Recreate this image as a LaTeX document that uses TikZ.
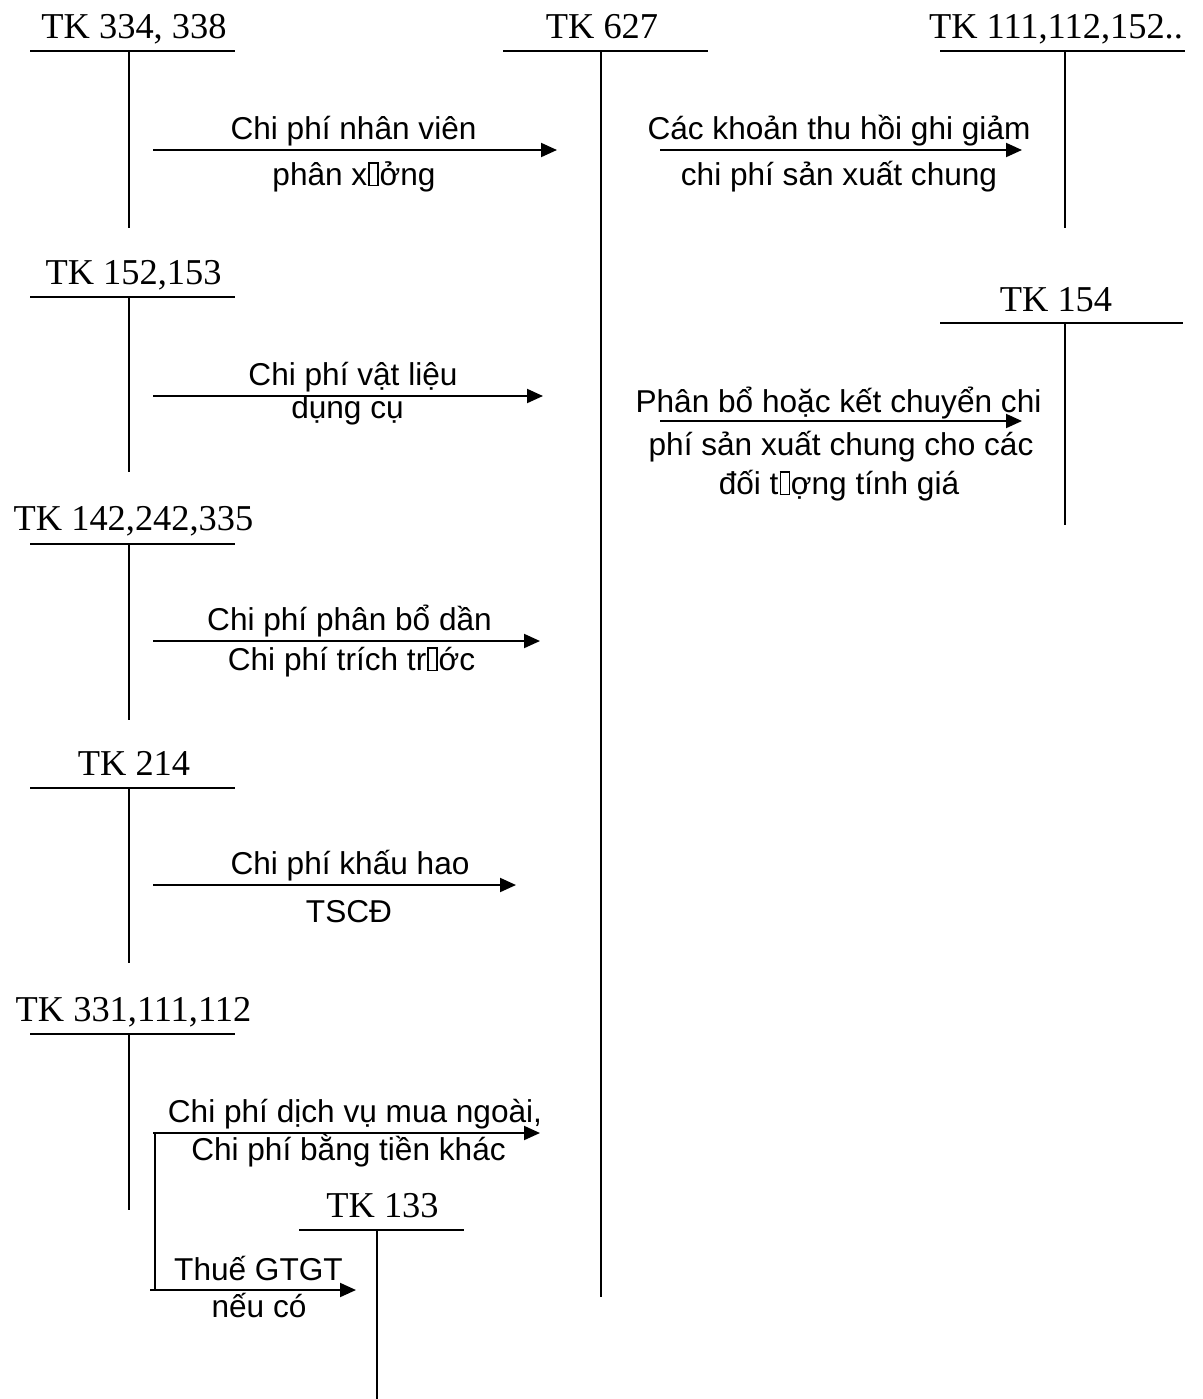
\documentclass[tikz,border=0pt]{standalone}
\usepackage{fontspec}
\setmainfont{Liberation Serif}
\newfontfamily\flowfont{Liberation Sans}
\usetikzlibrary{arrows.meta}
% empty box standing for a glyph the font could not show
\newcommand{\nglyph}{{\setlength{\fboxsep}{0pt}\setlength{\fboxrule}{0.045em}\kern0.03em\fbox{\rule{0pt}{0.68em}\rule{0.24em}{0pt}}\kern0.03em}}
\begin{document}
\begin{tikzpicture}[x=0.5pt,y=-0.5pt,
  acct/.style={font=\fontsize{18.2}{20}\selectfont, anchor=base, inner sep=0pt},
  lbl/.style={font=\flowfont\fontsize{15.8}{18}\selectfont, anchor=base, inner sep=0pt},
  tline/.style={line width=1pt},
  flow/.style={line width=1pt, -{Triangle[length=8pt,width=7pt]}}]
\useasboundingbox (0,0) rectangle (1203,1399);

% ---- T-accounts: title, horizontal bar, vertical stem ----
\node[acct] (t334) at (134,38) {TK 334, 338};
\coordinate (t334l) at (30,51);  \coordinate (t334r) at (235,51);
\coordinate (t334a) at (129,51); \coordinate (t334b) at (129,228);

\node[acct] (t627) at (602,38) {TK 627};
\coordinate (t627l) at (503,51);  \coordinate (t627r) at (708,51);
\coordinate (t627a) at (601,51);  \coordinate (t627b) at (601,1297);

\node[acct] (t111) at (1056,38) {TK 111,112,152..};
\coordinate (t111l) at (940,51);  \coordinate (t111r) at (1185,51);
\coordinate (t111a) at (1065,51); \coordinate (t111b) at (1065,228);

\node[acct] (t152) at (133.5,284) {TK 152,153};
\coordinate (t152l) at (30,297);  \coordinate (t152r) at (235,297);
\coordinate (t152a) at (129,297); \coordinate (t152b) at (129,472);

\node[acct] (t154) at (1056,311) {TK 154};
\coordinate (t154l) at (940,323);  \coordinate (t154r) at (1183,323);
\coordinate (t154a) at (1065,323); \coordinate (t154b) at (1065,525);

\node[acct] (t142) at (133.5,530) {TK 142,242,335};
\coordinate (t142l) at (30,544);  \coordinate (t142r) at (235,544);
\coordinate (t142a) at (129,544); \coordinate (t142b) at (129,720);

\node[acct] (t214) at (134,775) {TK 214};
\coordinate (t214l) at (30,788);  \coordinate (t214r) at (235,788);
\coordinate (t214a) at (129,788); \coordinate (t214b) at (129,963);

\node[acct] (t331) at (133.5,1021) {TK 331,111,112};
\coordinate (t331l) at (30,1034);  \coordinate (t331r) at (235,1034);
\coordinate (t331a) at (129,1034); \coordinate (t331b) at (129,1210);

\node[acct] (t133) at (382.5,1217) {TK 133};
\coordinate (t133l) at (299,1230); \coordinate (t133r) at (464,1230);
\coordinate (t133a) at (377,1230); \coordinate (t133b) at (377,1399);

\foreach \t in {t334,t627,t111,t152,t154,t142,t214,t331,t133}{
  \draw[tline] (\t l) -- (\t r);
  \draw[tline] (\t a) -- (\t b);
}

% ---- postings ----
\coordinate (f1s) at (153,150); \coordinate (f1e) at (557,150);
\draw[flow] (f1s) -- (f1e);
\node[lbl] (f1u) at (353.5,139) {Chi phí nhân viên};
\node[lbl] (f1d) at (354,185) {phân x\nglyph ởng};

\coordinate (f2s) at (660,150); \coordinate (f2e) at (1022,150);
\draw[flow] (f2s) -- (f2e);
\node[lbl] (f2u) at (839,139) {Các khoản thu hồi ghi giảm};
\node[lbl] (f2d) at (839,185) {chi phí sản xuất chung};

\coordinate (f3s) at (153,396); \coordinate (f3e) at (543,396);
\draw[flow] (f3s) -- (f3e);
\node[lbl] (f3u) at (353,385) {Chi phí vật liệu};
\node[lbl] (f3d) at (347.5,418) {dụng cụ};

\coordinate (f4s) at (660,421); \coordinate (f4e) at (1022,421);
\draw[flow] (f4s) -- (f4e);
\node[lbl] (f4a) at (838.5,412) {Phân bổ hoặc kết chuyển chi};
\node[lbl] (f4b) at (841,455) {phí sản xuất chung cho các};
\node[lbl] (f4c) at (839,494) {đối t\nglyph ợng tính giá};

\coordinate (f5s) at (153,641); \coordinate (f5e) at (540,641);
\draw[flow] (f5s) -- (f5e);
\node[lbl] (f5u) at (349.5,630) {Chi phí phân bổ dần};
\node[lbl] (f5d) at (351.5,670) {Chi phí trích tr\nglyph ớc};

\coordinate (f6s) at (153,885); \coordinate (f6e) at (516,885);
\draw[flow] (f6s) -- (f6e);
\node[lbl] (f6u) at (350,874) {Chi phí khấu hao};
\node[lbl] (f6d) at (349,922) {TSCĐ};

\coordinate (f7s) at (153,1133); \coordinate (f7e) at (540,1133);
\draw[flow] (f7s) -- (f7e);
\node[lbl] (f7u) at (355,1122) {Chi phí dịch vụ mua ngoài,};
\node[lbl] (f7d) at (348.5,1160) {Chi phí bằng tiền khác};

% VAT branch split off the purchase posting
\coordinate (vbt) at (155,1133); \coordinate (vbb) at (155,1290);
\draw[tline] (vbt) -- (vbb);
\coordinate (f8s) at (150,1290); \coordinate (f8e) at (356,1290);
\draw[flow] (f8s) -- (f8e);
\node[lbl] (f8u) at (258.5,1280) {Thuế GTGT};
\node[lbl] (f8d) at (259,1317) {nếu có};
\end{tikzpicture}
\end{document}
